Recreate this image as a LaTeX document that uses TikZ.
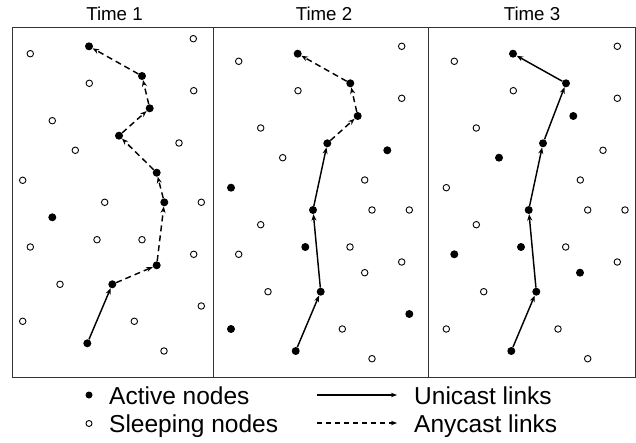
\documentclass[tikz,border=0pt]{standalone}
\usepackage{fontspec}
\setmainfont{Liberation Sans}
\usetikzlibrary{arrows.meta}
\begin{document}
\begin{tikzpicture}[x=1pt,y=-1pt,
 act/.style={circle,fill=black,inner sep=0pt,minimum size=8pt},
 slp/.style={circle,draw=black,line width=0.9pt,fill=white,inner sep=0pt,minimum size=6.5pt},
 uni/.style={line width=1.45pt,-{Stealth[length=6.5pt,width=5pt]}},
 any/.style={uni,dash pattern=on 6pt off 4pt},
 ttl/.style={font=\fontsize{18.7}{20}\selectfont,anchor=base,inner sep=0pt},
 leg/.style={font=\fontsize{24.5}{26}\selectfont,anchor=base west,inner sep=0pt},
 frm/.style={line width=1pt,draw=black!80}]
\useasboundingbox (0,0) rectangle (636,443);
\fill[white] (0,0) rectangle (636,443);
% frame
\coordinate (f1) at (12,28);
\coordinate (f2) at (635,377);
\draw[frm] (f1) rectangle (f2);
\coordinate (d1t) at (213,28); \coordinate (d1b) at (213,377);
\coordinate (d2t) at (428,28); \coordinate (d2b) at (428,377);
\draw[frm] (d1t) -- (d1b);
\draw[frm] (d2t) -- (d2b);
% titles
\node[ttl] (t1) at (114.5,20.7) {Time 1};
\node[ttl] (t2) at (324,20.7) {Time 2};
\node[ttl] (t3) at (532,20.7) {Time 3};
% ---------- panel 1 ----------
\foreach \x/\y [count=\i] in {193.3/38.7, 30.3/53.7, 89.3/83.3, 193.7/90.7, 52.3/120.7, 179/143, 75.3/150.3, 22.7/180.3, 104.7/202.3, 201.3/202.3, 97/239.7, 142/239.7, 30.3/247, 193.7/254.3, 60/284.3, 201.3/306, 22.7/321.3, 134.3/321.3, 164/351}
  \node[slp] (s1-\i) at (\x,\y) {};
\node[act] (o1-1) at (52.3,217.3) {};
\node[act] (a1-1) at (87.3,343.3) {};
\node[act] (a1-2) at (112.3,284.3) {};
\node[act] (a1-3) at (156.7,265.3) {};
\node[act] (a1-4) at (164.3,202.3) {};
\node[act] (a1-5) at (156.7,172.7) {};
\node[act] (a1-6) at (119,135.7) {};
\node[act] (a1-7) at (149.7,108.3) {};
\node[act] (a1-8) at (142,76) {};
\node[act] (a1-9) at (89,46.3) {};
\draw[uni] (a1-1) -- (a1-2);
\draw[any] (a1-2) -- (a1-3);
\draw[any] (a1-3) -- (a1-4);
\draw[any] (a1-4) -- (a1-5);
\draw[any] (a1-5) -- (a1-6);
\draw[any] (a1-6) -- (a1-7);
\draw[any] (a1-7) -- (a1-8);
\draw[any] (a1-8) -- (a1-9);
% ---------- panel 2 ----------
\foreach \x/\y [count=\i] in {401.7/46.3, 238.7/61.3, 298/90.7, 401.7/98.3, 260.7/128, 282.7/157.7, 364.7/180, 372/210, 409.3/210, 260.7/224.7, 350/247, 238.7/254.3, 401.7/262, 364.7/272.7, 268/291.7, 342.3/329, 372/358.7}
  \node[slp] (s2-\i) at (\x,\y) {};
\foreach \x/\y [count=\i] in {387.3/150.3, 231/187.7, 305.3/247, 409.3/314, 231/329}
  \node[act] (o2-\i) at (\x,\y) {};
\node[act] (a2-1) at (295.7,351) {};
\node[act] (a2-2) at (320.7,291.7) {};
\node[act] (a2-3) at (313,210) {};
\node[act] (a2-4) at (327.3,143.3) {};
\node[act] (a2-5) at (357.7,116) {};
\node[act] (a2-6) at (350.3,83.3) {};
\node[act] (a2-7) at (297.7,53.7) {};
\draw[uni] (a2-1) -- (a2-2);
\draw[uni] (a2-2) -- (a2-3);
\draw[uni] (a2-3) -- (a2-4);
\draw[any] (a2-4) -- (a2-5);
\draw[any] (a2-5) -- (a2-6);
\draw[any] (a2-6) -- (a2-7);
% ---------- panel 3 ----------
\foreach \x/\y [count=\i] in {617.3/46.3, 454.3/61.3, 513.3/90.7, 617.3/98.3, 476.3/128, 603/150.3, 580.3/180, 446.3/187.7, 587.7/210, 625/210, 476.3/224.7, 565.7/247, 617.3/262, 483.7/291.7, 446.3/329, 558/329, 587.7/358.7}
  \node[slp] (s3-\i) at (\x,\y) {};
\foreach \x/\y [count=\i] in {573.3/116, 499/157.7, 521/247, 454.3/254.3, 580/272.7}
  \node[act] (o3-\i) at (\x,\y) {};
\node[act] (a3-1) at (511.3,351) {};
\node[act] (a3-2) at (536.3,291.7) {};
\node[act] (a3-3) at (528.7,210) {};
\node[act] (a3-4) at (543,143.3) {};
\node[act] (a3-5) at (566,83.3) {};
\node[act] (a3-6) at (513,53.7) {};
\draw[uni] (a3-1) -- (a3-2);
\draw[uni] (a3-2) -- (a3-3);
\draw[uni] (a3-3) -- (a3-4);
\draw[uni] (a3-4) -- (a3-5);
\draw[uni] (a3-5) -- (a3-6);
% ---------- legend ----------
\node[act,minimum size=7pt] (la) at (89,395) {};
\node[slp,minimum size=6pt] (ls) at (89,423.5) {};
\node[leg] (lta) at (109,404.5) {Active nodes};
\node[leg] (lts) at (109,432.5) {Sleeping nodes};
\coordinate (u1) at (317,395); \coordinate (u2) at (397,395);
\coordinate (n1) at (317,423); \coordinate (n2) at (397,423);
\draw[line width=1.3pt,-{Stealth[length=6pt,width=4.5pt]}] (u1) -- (u2);
\draw[line width=1.3pt,dash pattern=on 5pt off 4pt,-{Stealth[length=6pt,width=4.5pt]}] (n1) -- (n2);
\node[leg] (ltu) at (414,404.5) {Unicast links};
\node[leg] (ltn) at (414,432.5) {Anycast links};
\end{tikzpicture}
\end{document}
